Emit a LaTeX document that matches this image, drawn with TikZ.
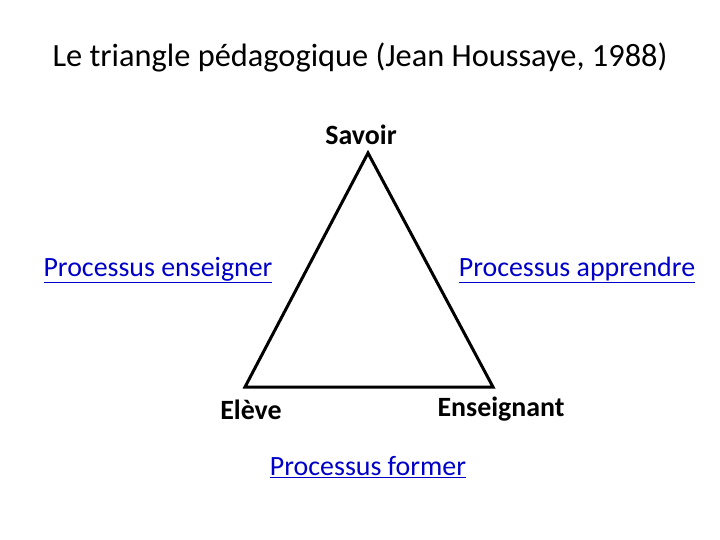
\documentclass[tikz,border=0pt]{standalone}
\usepackage{fontspec}
\setmainfont{Carlito}
\definecolor{lien}{RGB}{0,0,200}
\begin{document}
\begin{tikzpicture}[x=1bp,y=-1bp,line width=3bp]
			\tikzset{every node/.style={font=\fontsize{28}{32}\selectfont,inner sep=0pt},
				sommet/.style={font=\fontsize{28}{32}\selectfont\bfseries},
				processus/.style={text=lien}}
			\useasboundingbox (0,0) rectangle (720,540);
			\node (titre) at (360,57) {\fontsize{32.5}{36}\selectfont Le triangle pédagogique (Jean Houssaye, 1988)};
			\coordinate (S) at (368,153);
			\coordinate (E) at (245,387);
			\coordinate (N) at (493,387);
			\draw[line join=miter] (S)--(E)--(N)--cycle;
			\path
			(361,135) node[sommet] (savoir) {Savoir}
			(251,410) node[sommet] (eleve) {Elève}
			(501,409) node[sommet] (enseignant) {Enseignant}
			(158,270) node[processus] (enseigner) {\underline{Processus enseigner}}
			(577,270) node[processus] (apprendre) {\underline{Processus apprendre}}
			(368,467) node[processus] (former) {\underline{Processus former}}
			;
		\end{tikzpicture}
\end{document}
